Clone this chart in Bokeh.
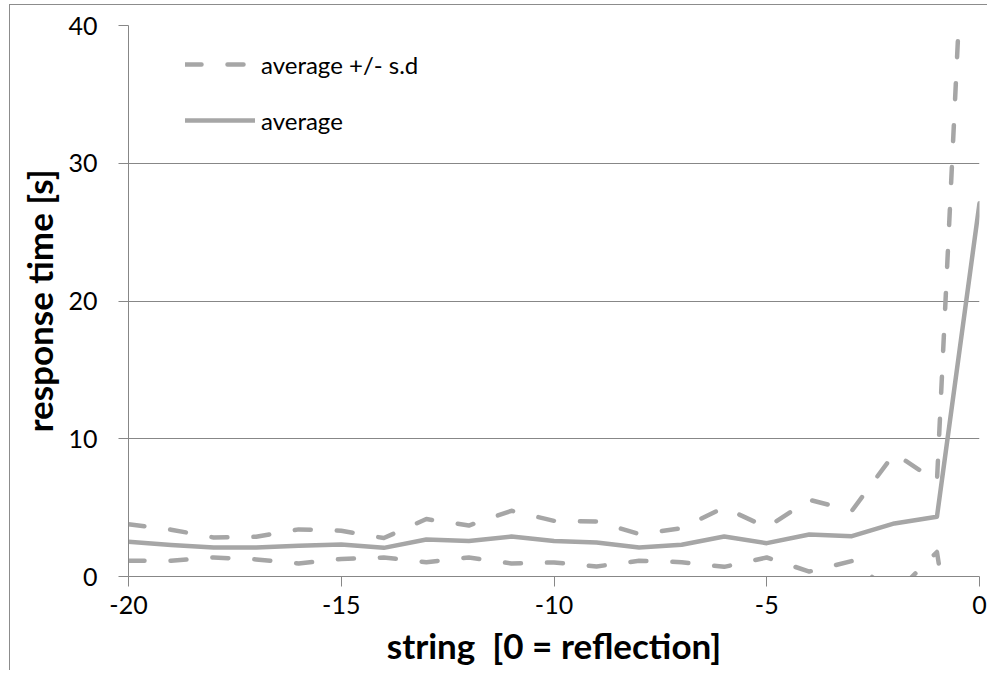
from bokeh.plotting import figure
from bokeh.models import Range1d, Legend, LegendItem, FixedTicker
from bokeh.embed import file_html
from bokeh.resources import INLINE

# ---- data ----
strings = list(range(-20, 1))
average = [2.52, 2.29, 2.10, 2.10, 2.23, 2.33, 2.08, 2.69, 2.57, 2.90, 2.57,
           2.47, 2.10, 2.30, 2.90, 2.42, 3.05, 2.93, 3.85, 4.34, 27.1]
upper_sd = [3.80, 3.40, 2.83, 2.88, 3.42, 3.32, 2.79, 4.17, 3.70, 4.77, 4.04,
            4.00, 3.08, 3.51, 5.01, 3.56, 5.57, 4.77, 8.93, 6.90, 72.0]
lower_sd = [1.14, 1.14, 1.38, 1.24, 0.95, 1.27, 1.38, 1.04, 1.38, 0.95, 1.02,
            0.73, 1.14, 1.04, 0.70, 1.38, 0.36, 1.12, -1.30, 1.78, -18.0]
x_ticks = [-20, -15, -10, -5, 0]
x_tick_labels = ["-20", "-15", "-10", "-5", "0"]
y_ticks = [0, 10, 20, 30, 40]

LINE = "#A6A6A6"
AXIS = "#878787"

p = figure(width=978, height=666, output_backend="svg", toolbar_location=None,
           x_range=Range1d(-20, 0), y_range=Range1d(0, 40),
           min_border_left=118, min_border_top=20, min_border_right=9,
           min_border_bottom=95,
           styles={"border-top": "1px solid #8c8c8c",
                   "border-left": "1px solid #8c8c8c",
                   "position": "relative", "top": "4px", "left": "9px"})

p.outline_line_color = None
p.background_fill_color = "white"
p.border_fill_color = "white"

r_up = p.line(strings, upper_sd, line_color=LINE, line_width=4.5,
              line_dash="16 26", line_cap="round", line_join="round")
r_lo = p.line(strings, lower_sd, line_color=LINE, line_width=4.5,
              line_dash="16 26", line_cap="round", line_join="round")
r_avg = p.line(strings, average, line_color=LINE, line_width=4.5,
               line_cap="round", line_join="round")

# axes
p.xaxis.ticker = FixedTicker(ticks=x_ticks)
p.xaxis.major_label_overrides = {float(t): lab for t, lab in zip(x_ticks, x_tick_labels)}
p.yaxis.ticker = FixedTicker(ticks=y_ticks)
for ax in (p.xaxis, p.yaxis):
    ax.axis_line_color = AXIS
    ax.axis_line_width = 1
    ax.major_tick_line_color = AXIS
    ax.major_tick_out = 10
    ax.major_tick_in = 0
    ax.minor_tick_line_color = None
    ax.major_label_text_font = "Lato"
    ax.major_label_text_font_size = "25px"
    ax.major_label_text_color = "black"
    ax.axis_label_text_font = "Lato"
    ax.axis_label_text_font_style = "bold"
    ax.axis_label_text_font_size = "35px"
    ax.axis_label_text_color = "black"

p.xaxis.axis_label = "string \u00a0[0 = reflection]"
p.yaxis.axis_label = "response time [s]"
p.xaxis.major_label_standoff = 9
p.yaxis.major_label_standoff = 21
p.xaxis.axis_label_standoff = 7
p.yaxis.axis_label_standoff = 5

p.xgrid.visible = False
p.ygrid.ticker = FixedTicker(ticks=y_ticks)
p.ygrid.grid_line_color = AXIS
p.ygrid.grid_line_width = 1

legend = Legend(items=[LegendItem(label="average +/- s.d", renderers=[r_up]),
                       LegendItem(label="average", renderers=[r_avg])],
                location=(57, 441), orientation="vertical",
                glyph_width=70, glyph_height=30, label_height=30,
                label_standoff=6, spacing=26, padding=0, margin=0,
                border_line_color=None, background_fill_alpha=0,
                label_text_font="Lato", label_text_font_size="24px",
                label_text_color="black")
p.add_layout(legend)

open("out.html", "w").write(file_html(p, INLINE))
